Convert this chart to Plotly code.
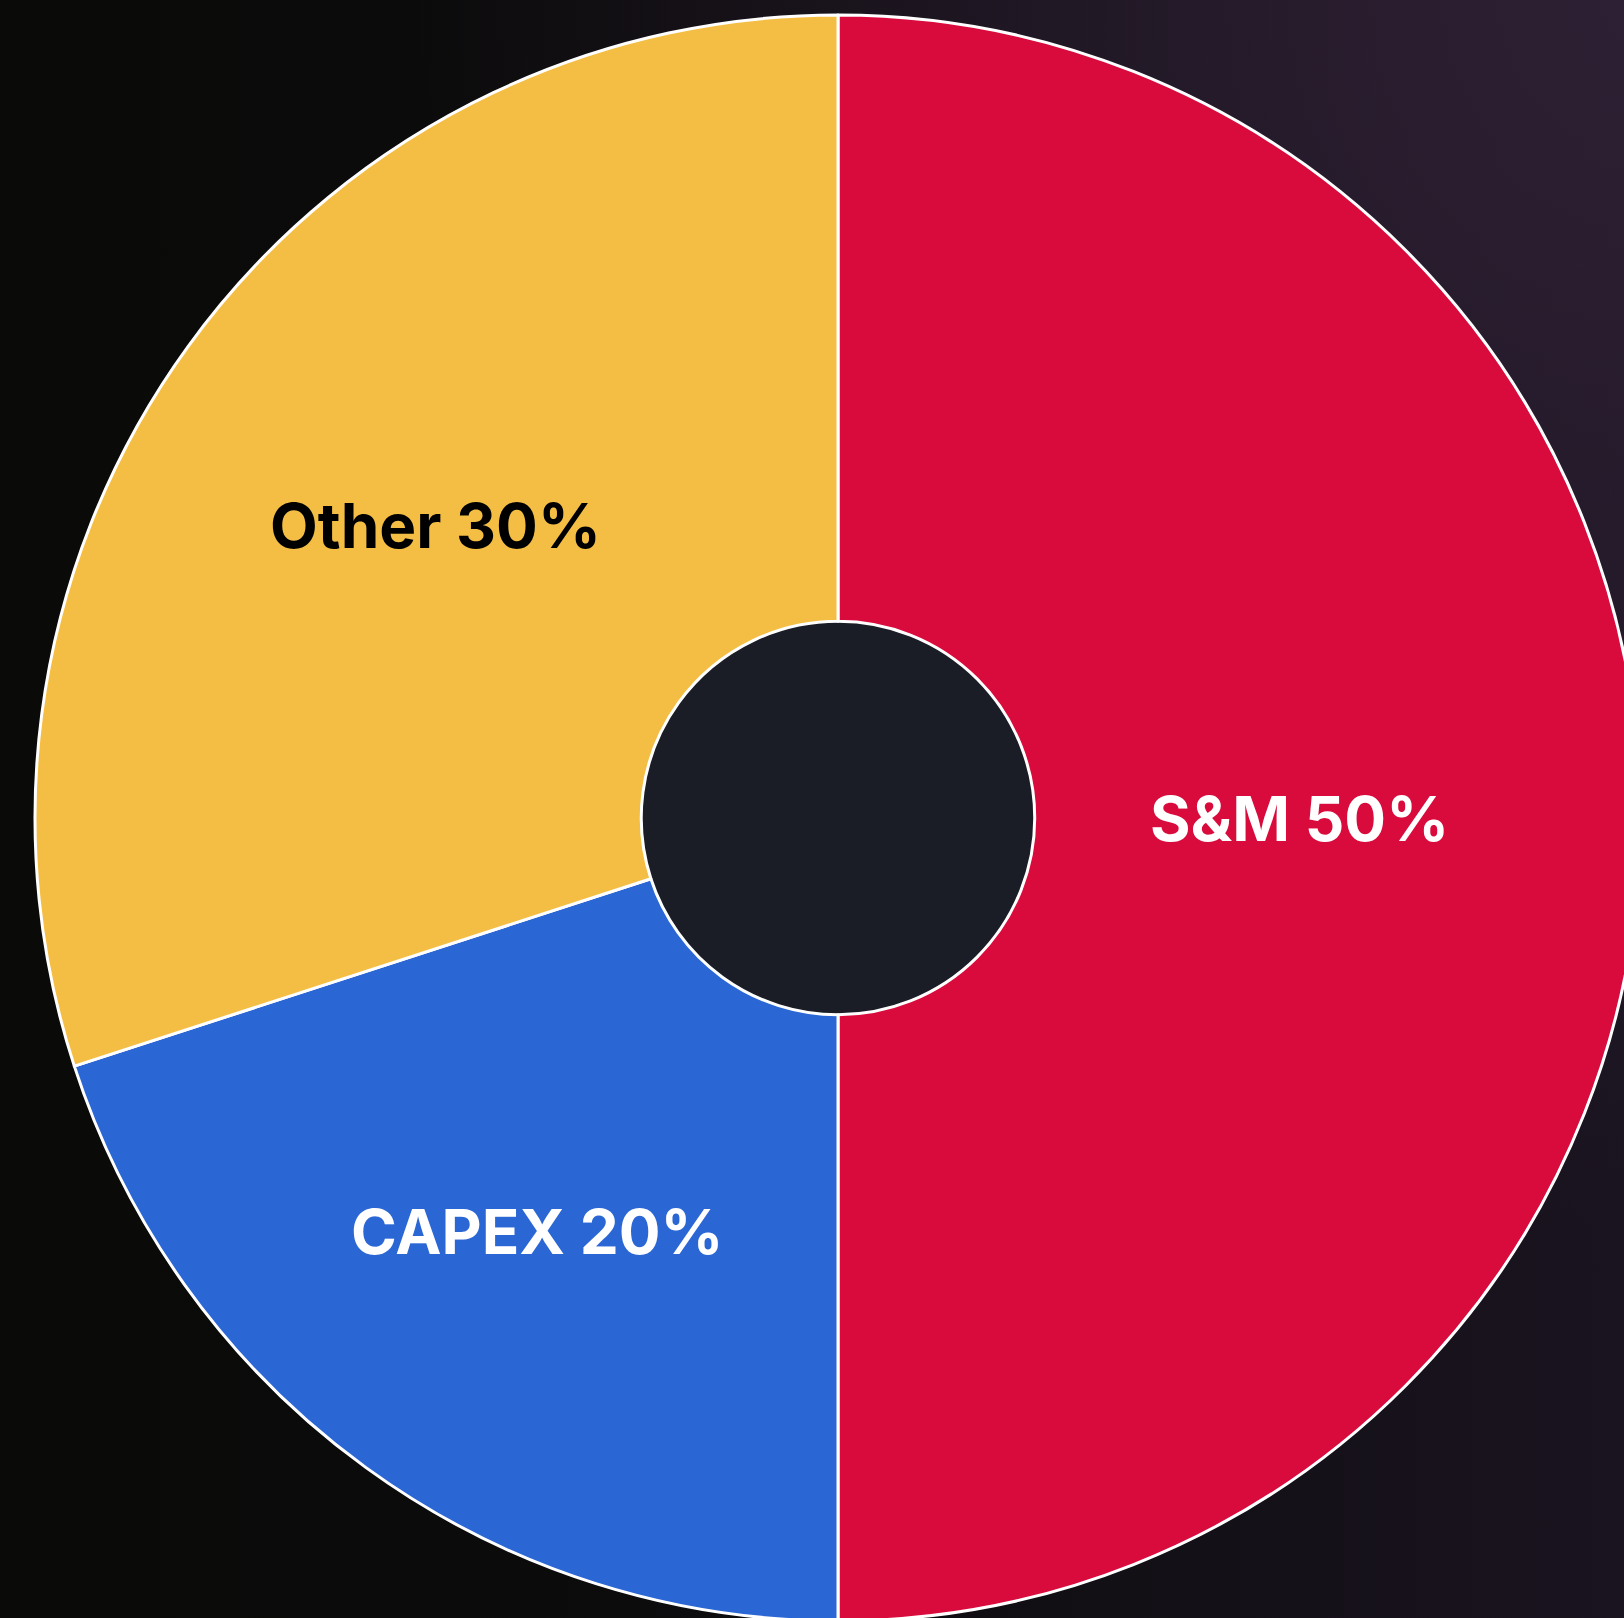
import base64
import math
import plotly.graph_objects as go

# ---- data ----
labels = ["S&M", "CAPEX", "Other"]
values = [50, 20, 30]
slice_colors = ["#D80B3C", "#2A66D4", "#F4BE45"]
text_colors = ["#FFFFFF", "#FFFFFF", "#000000"]
label_radius = [0.575, 0.636, 0.62]   # label distance from centre, as a fraction of the outer radius

# ---- layout geometry (pixels) ----
W, H = 1660, 1640          # figure a little larger than the viewport (pie bleeds off the edges)
CX, CY, R = 838, 818, 803  # pie centre / radius in page pixels
HOLE = 0.245

dom_x = [(CX - R) / W, (CX + R) / W]
dom_y = [1 - (CY + R) / H, 1 - (CY - R) / H]

# background gradient (dark, purple tint toward the right / top-right)
svg = f"""<svg xmlns='http://www.w3.org/2000/svg' width='{W}' height='{H}' viewBox='0 0 {W} {H}' preserveAspectRatio='none'>
<defs>
<linearGradient id='g1' x1='0' y1='0' x2='1' y2='0'>
<stop offset='0' stop-color='#0a0a08'/>
<stop offset='0.45' stop-color='#0d0c0e'/>
<stop offset='1' stop-color='#1a1420'/>
</linearGradient>
<radialGradient id='g2' cx='1' cy='0' r='0.75'>
<stop offset='0' stop-color='#2e2034' stop-opacity='1'/>
<stop offset='1' stop-color='#2e2034' stop-opacity='0'/>
</radialGradient>
</defs>
<rect width='{W}' height='{H}' fill='url(#g1)'/>
<rect width='{W}' height='{H}' fill='url(#g2)'/>
</svg>"""
bg_uri = "data:image/svg+xml;base64," + base64.b64encode(svg.encode()).decode()

fig = go.Figure()

# hole fill (drawn beneath the donut)
fig.add_trace(go.Pie(
    values=[1],
    marker=dict(colors=["#1a1d25"], line=dict(width=0)),
    domain=dict(
        x=[(CX - R * HOLE) / W, (CX + R * HOLE) / W],
        y=[1 - (CY + R * HOLE) / H, 1 - (CY - R * HOLE) / H],
    ),
    textinfo="none",
    hoverinfo="skip",
    showlegend=False,
    sort=False,
))

fig.add_trace(go.Pie(
    labels=labels,
    values=values,
    hole=HOLE,
    sort=False,
    direction="clockwise",
    rotation=0,
    marker=dict(colors=slice_colors, line=dict(color="#FFFFFF", width=3)),
    textinfo="none",
    domain=dict(x=dom_x, y=dom_y),
    showlegend=False,
))

# slice labels placed at each slice's mid-angle (clockwise from 12 o'clock)
total = sum(values)
annotations = []
cum = 0
for lab, val, col, rf in zip(labels, values, text_colors, label_radius):
    mid = (cum + val / 2) / total * 2 * math.pi
    cum += val
    px = CX + rf * R * math.sin(mid)
    py = CY - rf * R * math.cos(mid)
    annotations.append(dict(
        x=px / W, y=1 - py / H, xref="paper", yref="paper",
        text=f"{lab} {round(val / total * 100)}%",
        showarrow=False, xanchor="center", yanchor="middle",
        font=dict(family="Inter", size=62, color=col, weight="bold"),
    ))

fig.update_layout(
    width=W,
    height=H,
    margin=dict(l=0, r=0, t=0, b=0),
    paper_bgcolor="#0a0a08",
    plot_bgcolor="#0a0a08",
    showlegend=False,
    annotations=annotations,
    images=[dict(
        source=bg_uri, xref="paper", yref="paper", x=0, y=1,
        sizex=1, sizey=1, xanchor="left", yanchor="top",
        sizing="stretch", layer="below",
    )],
)

fig.write_html(
    "out.html",
    config={"displayModeBar": False},
    post_script="document.documentElement.style.overflow='hidden';document.body.style.overflow='hidden';document.body.style.margin='0';",
)
